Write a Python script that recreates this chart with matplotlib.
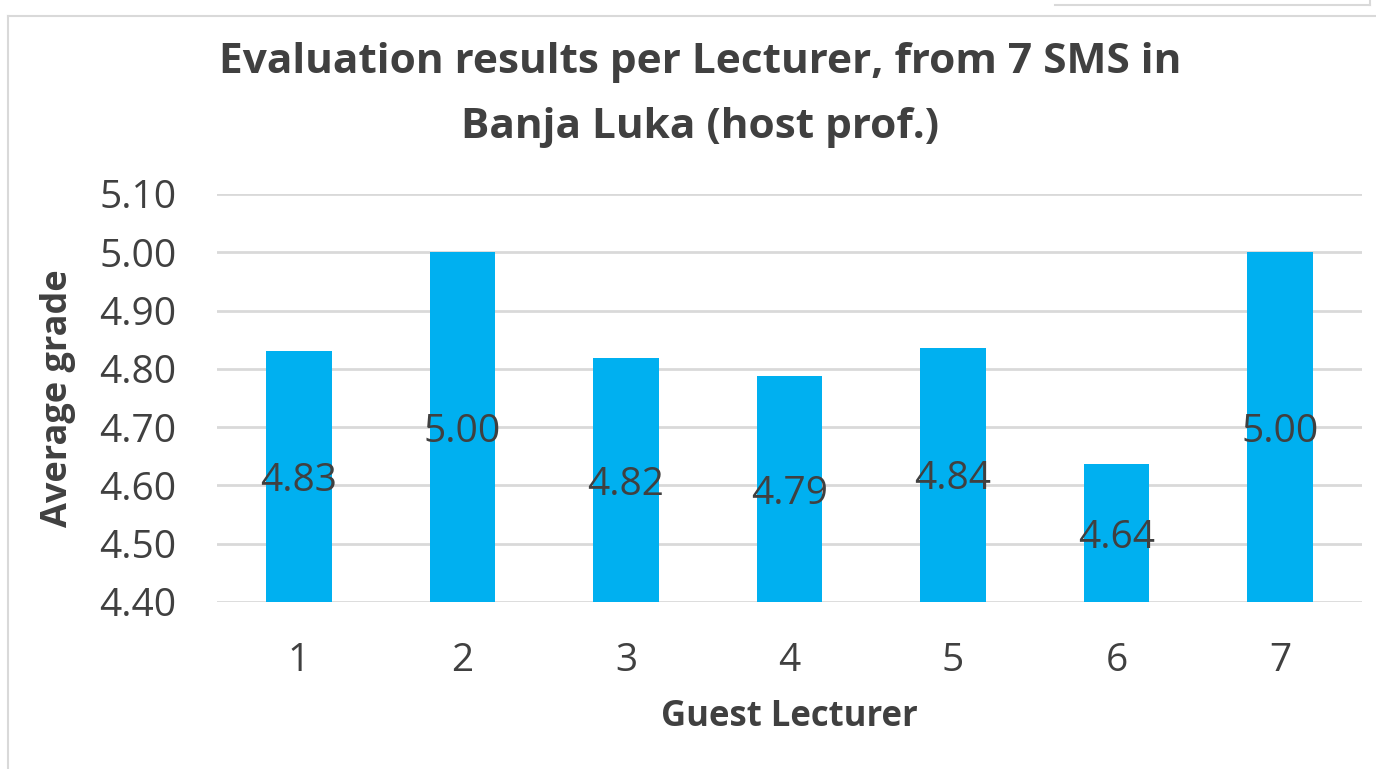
import matplotlib
matplotlib.use("Agg")
from matplotlib import pyplot as plt
from matplotlib.lines import Line2D

lecturers = ["1", "2", "3", "4", "5", "6", "7"]
grades = [4.83, 5.00, 4.818, 4.787, 4.836, 4.636, 5.00]
yticks = [4.40, 4.50, 4.60, 4.70, 4.80, 4.90, 5.00, 5.10]

TEXT = "#404040"
BAR = "#00B0F0"
GRID = "#D9D9D9"

plt.rcParams["font.family"] = ["Open Sans", "DejaVu Sans"]

W, H = 1376, 769
fig = plt.figure(figsize=(W / 100, H / 100), dpi=100)
ax = fig.add_axes([217 / W, 1 - 602 / H, (1362 - 217) / W, (602 - 194) / H])

x = list(range(len(lecturers)))
ax.bar(x, [g - 4.40 for g in grades], bottom=4.40, width=0.40, color=BAR, zorder=2)

# value labels sit in the middle of each bar
for xi, g in zip(x, grades):
    ax.text(xi, (4.40 + g) / 2, f"{g:.2f}", ha="center", va="center_baseline",
            fontsize=28, color=TEXT, zorder=3)

ax.set_ylim(4.40, 5.10)
ax.set_xlim(-0.5, 6.5)
ax.set_yticks(yticks)
ax.set_yticklabels([f"{t:.2f}" for t in yticks], fontsize=28, color=TEXT)
ax.set_xticks(x)
ax.set_xticklabels(lecturers, fontsize=28, color=TEXT)
ax.tick_params(axis="y", length=0, pad=29)
ax.tick_params(axis="x", length=0, pad=29)
for s in ax.spines.values():
    s.set_visible(False)
ax.grid(axis="y", color=GRID, linewidth=2, zorder=1)
ax.set_axisbelow(True)

fig.text(58 / W, 1 - 398 / H, "Average grade", rotation=90, ha="center", va="center",
         fontsize=26, fontweight="bold", color=TEXT)
fig.text(789 / W, 1 - 717 / H, "Guest Lecturer", ha="center", va="center",
         fontsize=25, fontweight="bold", color=TEXT)
fig.text(700 / W, 1 - 95 / H, "Evaluation results per Lecturer, from 7 SMS in\nBanja Luka (host prof.)",
         ha="center", va="center", fontsize=30.5, fontweight="bold", color=TEXT,
         linespacing=1.76)

# chart frame
fig.add_artist(Line2D([8 / W, 8 / W], [0, 1 - 16 / H], color=GRID, linewidth=1.5))
fig.add_artist(Line2D([8 / W, 1], [1 - 16 / H, 1 - 16 / H], color=GRID, linewidth=1.5))
fig.add_artist(Line2D([1055 / W, 1370 / W], [1 - 5 / H, 1 - 5 / H], color=GRID, linewidth=1.5))
fig.add_artist(Line2D([1370 / W, 1370 / W], [1 - 5 / H, 1], color=GRID, linewidth=1.5))

fig.savefig("out.png", dpi=100)
